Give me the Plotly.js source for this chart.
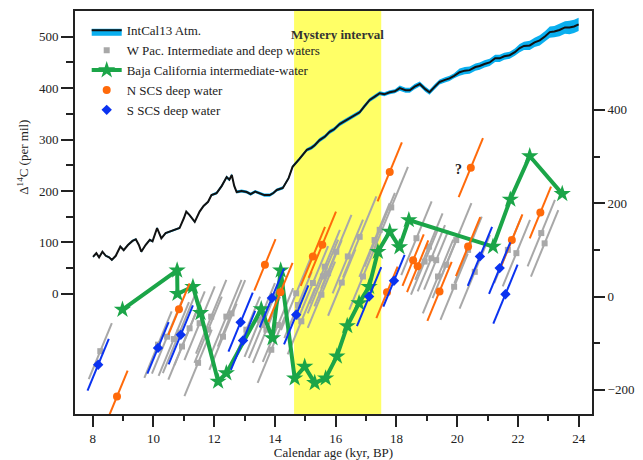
<!DOCTYPE html>
<html><head><meta charset="utf-8">
<script src="https://cdn.plot.ly/plotly-3.0.1.min.js"></script>
<style>html,body{margin:0;padding:0;background:#fff}#chart{width:643px;height:460px}</style>
</head><body><div id="chart"></div>
<script>
// IntCal13 atmospheric curve (left axis)
const intcalAge = [8.01,8.12,8.21,8.32,8.43,8.54,8.63,8.76,8.91,9.02,9.16,9.31,9.42,9.52,9.6,9.74,9.88,9.97,10.12,10.26,10.4,10.53,10.7,10.86,11.0,11.08,11.19,11.36,11.52,11.65,11.8,11.91,
  12.08,12.25,12.41,12.5,12.58,12.66,12.74,12.9,13.07,13.2,13.35,13.5,13.65,13.83,13.95,14.06,14.26,14.45,14.58,14.8,15.05,15.2,15.31,15.47,15.65,15.8,15.95,16.13,16.3,16.46,16.6,16.79,16.95,17.12,17.3,17.45,17.6,17.78,17.95,18.11,18.3,18.44,18.6,18.77,18.95,19.09,19.25,19.42,19.6,19.75,19.9,20.08,20.25,20.41,20.6,20.74,20.9,21.07,21.25,21.4,21.55,21.73,21.9,22.06,22.2,22.39,22.55,22.72,22.9,23.05,23.2,23.37,23.55,23.7,23.85,24.0];
const intcalD14C = [72,79,71,82,74,71,66,74,92,85,95,103,106,95,82,95,105,102,128,108,118,121,124,128,147,160,153,140,160,171,179,192,
  196,210,227,222,231,210,198,200,198,194,199,196,192,192,196,202,206,225,247,262,280,284,289,299,306,315,320,330,336,342,346,353,365,377,384,390,388,392,394,400,396,396,403,408,398,392,402,412,416,419,424,431,434,435,441,443,447,450,458,458,462,464,470,478,482,483,489,493,501,509,510,513,518,518,520,524];
const intcalErr = [2,2,2,2,2,2,2,2,2,2,2,2,2,2,2,2,2,2,2,2,2,2,2,2,2,2,2,2,2,2,2,2,
  3,3,3,3,3,3,3,3,3,3,3,3,3,3,3,3,3,3,3,3,3,
  4,4,4,4,4,4,4,4,4,4,4,4,4,4,4,4,4,4,
  5,5,5,5,5,5,5,5,5,5,5,5,
  7,7,7,7,7,7,7,7,7,7,7,7,
  8,8,9,9,10,10,11,11,12,12,13,13,13];

// W Pacific intermediate & deep waters (right axis); err = calendar-age half error (kyr)
const wpacAge = [8.25,10.15,10.45,10.67,10.86,10.94,11.19,11.47,11.52,11.8,11.9,12.29,12.4,12.57,13.06,13.5,13.59,13.72,13.88,14.1,14.7,14.76,14.87,15.25,15.53,15.58,15.64,15.75,16.02,16.2,16.4,16.79,16.9,17.28,17.45,17.83,18.66,18.93,19.07,19.15,19.31,19.37,19.64,19.97,19.9,20.36,20.58,21.67,21.95,22.77,22.88];
const wpacD14C = [-117,-103,-86,-91,-77,-107,-68,-142,-57,-71,-43,-86,-43,-36,-71,-50,-61,-71,-114,-61,7,-18,-53,29,4,43,64,50,96,30,86,128,43,121,143,191,125,75,107,82,78,43,68,121,21,100,53,100,93,136,114];
const wpacErr = [0.38,0.45,0.5,0.5,0.55,0.45,0.5,0.45,0.5,0.45,0.5,0.45,0.5,0.45,0.45,0.5,0.45,0.45,0.45,0.5,0.5,0.45,0.45,0.5,0.45,0.5,0.5,0.45,0.5,0.45,0.5,0.55,0.45,0.5,0.5,0.55,0.5,0.45,0.45,0.45,0.4,0.5,0.45,0.5,0.45,0.45,0.5,0.45,0.45,0.45,0.45];

// Baja California intermediate water (right axis)
const bajaAge = [8.98,10.78,10.79,11.3,11.55,12.13,12.4,13.55,13.92,14.19,14.65,14.98,15.31,15.67,16.04,16.38,16.77,17.1,17.39,17.78,18.1,18.41,21.18,21.75,22.39,23.46];
const bajaD14C = [-28,56,6,21,-35,-182,-164,-27,-89,56,-175,-150,-185,-175,-128,-63,-14,21,96,139,106,164,107,208,301,220];

// N SCS deep water (right axis)
const nscsAge = [8.8,10.84,13.67,14.18,15.25,15.56,17.69,17.78,18.55,18.7,19.42,20.36,20.45,21.8,22.74];
const nscsD14C = [-214,-27,68,9,86,111,9,267,78,65,11,107,276,121,180];
const nscsErr = [0.35,0.35,0.35,0.4,0.4,0.45,0.35,0.4,0.35,0.35,0.4,0.4,0.4,0.35,0.35];

// S SCS deep water (right axis)
const sscsAge = [8.18,10.15,10.9,12.87,12.95,13.9,14.7,17.1,17.92,20.75,21.4,21.59];
const sscsD14C = [-146,-110,-82,-55,-94,-3,-39,0,34,86,61,5];
const sscsErr = [0.35,0.35,0.4,0.4,0.4,0.4,0.4,0.4,0.35,0.4,0.35,0.4];

const xTicks = [8,10,12,14,16,18,20,22,24];
const yLeftTicks = [0,100,200,300,400,500];
const yRightTicks = [-200,0,200,400];

const SLOPE = 158; // per mil per kyr along the calibration-error direction
function segs(ages, vals, errs) {
  const xs = [], ys = [];
  for (let i = 0; i < ages.length; i++) {
    const e = errs[i];
    xs.push(ages[i] - e, ages[i] + e, null);
    ys.push(vals[i] - e * SLOPE, vals[i] + e * SLOPE, null);
  }
  return {xs, ys};
}

const GRAY = '#A8A8A8', GREEN = '#1BA548', ORANGE = '#FF6A0A', BLUE = '#0A32F0', CYAN = '#0AAFEF';
const w = segs(wpacAge, wpacD14C, wpacErr);
const n = segs(nscsAge, nscsD14C, nscsErr);
const s = segs(sscsAge, sscsD14C, sscsErr);

const traces = [
  {x: intcalAge, y: intcalD14C.map((v,i)=>v-intcalErr[i]), mode:'lines', line:{width:0,color:CYAN}, showlegend:false, hoverinfo:'skip', yaxis:'y'},
  {x: intcalAge, y: intcalD14C.map((v,i)=>v+intcalErr[i]), mode:'lines', line:{width:0,color:CYAN}, fill:'tonexty', fillcolor:CYAN, showlegend:false, hoverinfo:'skip', yaxis:'y'},
  {x: intcalAge, y: intcalD14C, mode:'lines', line:{width:2,color:'#111'}, name:'IntCal13 Atm.', yaxis:'y'},
  {x: w.xs, y: w.ys, mode:'lines', line:{width:2,color:GRAY}, showlegend:false, yaxis:'y2'},
  {x: wpacAge, y: wpacD14C, mode:'markers', marker:{symbol:'square', size:6, color:GRAY}, name:'W Pac. Intermediate and deep waters', yaxis:'y2'},
  {x: bajaAge, y: bajaD14C, mode:'lines+markers', line:{width:4,color:GREEN}, marker:{symbol:'star', size:13, color:GREEN}, name:'Baja California intermediate-water', yaxis:'y2'},
  {x: n.xs, y: n.ys, mode:'lines', line:{width:2,color:ORANGE}, showlegend:false, yaxis:'y2'},
  {x: nscsAge, y: nscsD14C, mode:'markers', marker:{symbol:'circle', size:8, color:ORANGE}, name:'N SCS deep water', yaxis:'y2'},
  {x: s.xs, y: s.ys, mode:'lines', line:{width:2,color:BLUE}, showlegend:false, yaxis:'y2'},
  {x: sscsAge, y: sscsD14C, mode:'markers', marker:{symbol:'diamond', size:8, color:BLUE}, name:'S SCS deep water', yaxis:'y2'}
];

const FONT = '"Liberation Serif", "Times New Roman", serif';
const AX = '#222';
const L = 87, T0 = 75.3, PW = 517, PB = 414.3, PH = 403.6;
const layout = {
  width:643, height:460,
  margin:{l:75, r:51, t:11, b:46, pad:0},
  paper_bgcolor:'#fff', plot_bgcolor:'rgba(0,0,0,0)',
  font:{family:FONT, size:13, color:AX},
  showlegend:true,
  legend:{x:(L-T0)/PW, xanchor:'left', y:(PB-15)/PH, yanchor:'top', traceorder:'normal', bgcolor:'rgba(0,0,0,0)', font:{family:FONT,size:13,color:AX}, tracegroupgap:0},
  xaxis:{range:[7.417,24.44], tickmode:'array', tickvals:xTicks, ticks:'outside', ticklen:11, tickwidth:2, tickcolor:AX,
    showline:true, linewidth:2, linecolor:AX, mirror:true, showgrid:false, zeroline:false,
    minor:{tickmode:'array', tickvals:[9,11,13,15,17,19,21,23], ticks:'outside', ticklen:5, tickwidth:2, tickcolor:AX, showgrid:false},
    title:{text:'Calendar age (kyr, BP)', font:{family:FONT,size:13,color:AX}, standoff:2}},
  yaxis:{range:[-233.6,550], tickmode:'array', tickvals:yLeftTicks, ticks:'outside', ticklen:12, tickwidth:2, tickcolor:AX,
    showline:true, linewidth:2, linecolor:AX, mirror:true, showgrid:false, zeroline:false,
    minor:{tickmode:'array', tickvals:[50,150,250,350,450], ticks:'outside', ticklen:7, tickwidth:2, tickcolor:AX, showgrid:false}},
  yaxis2:{overlaying:'y', side:'right', range:[-251.6,611.8], tickmode:'array', tickvals:yRightTicks, ticks:'outside', ticklen:12, tickwidth:2, tickcolor:AX,
    showline:false, showgrid:false, zeroline:false,
    minor:{tickmode:'array', tickvals:[-100,100,300], ticks:'outside', ticklen:7, tickwidth:2, tickcolor:AX, showgrid:false}},
  shapes:[
    {type:'rect', xref:'x', yref:'paper', x0:14.63, x1:17.5, y0:0, y1:1, fillcolor:'#FFFF66', line:{width:0}, layer:'below'},
    {type:'line', xref:'paper', yref:'paper', x0:(L+5-T0)/PW, x1:(L+35-T0)/PW, y0:(PB-32)/PH, y1:(PB-32)/PH, line:{color:CYAN,width:7}, layer:'above'}
  ],
  annotations:[
    {text:'<b>Mystery interval</b>', xref:'x', yref:'paper', x:16.07, y:(PB-25)/PH, showarrow:false, font:{family:FONT,size:13,color:'#333'}},
    {text:'<b>?</b>', xref:'x', yref:'y2', x:20.03, y:272, showarrow:false, font:{family:FONT,size:14,color:'#222'}},
    {text:'Δ<sup>14</sup>C (per mil)', xref:'paper', yref:'paper', x:(23-T0)/PW, y:(PB-157)/PH, xanchor:'center', yanchor:'middle', textangle:-90, showarrow:false, font:{family:FONT,size:13,color:AX}}
  ]
};
Plotly.newPlot('chart', traces, layout, {displayModeBar:false, staticPlot:true});
</script></body></html>
